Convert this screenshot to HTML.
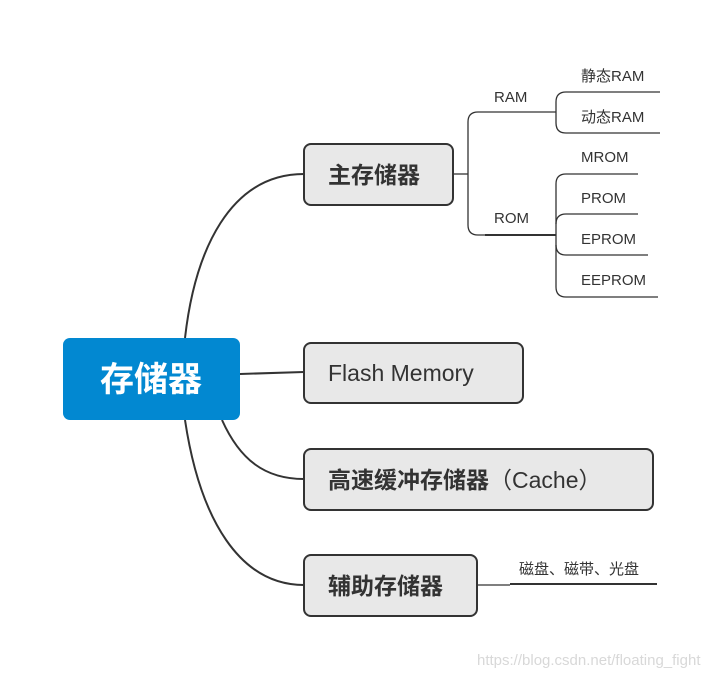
<!DOCTYPE html>
<html><head><meta charset="utf-8"><style>
html,body{margin:0;padding:0;background:#fff;}
svg{display:block;}
text{font-family:"Liberation Sans","Noto Sans CJK SC",sans-serif;}
</style></head><body>
<svg width="722" height="678" viewBox="0 0 722 678" xmlns="http://www.w3.org/2000/svg">
<g fill="none" stroke="#333" stroke-width="2">
<path d="M185 338 C195 250,230 174,304 174"/>
<path d="M240 374 L304 372"/>
<path d="M222 420 C240 460,265 479,304 479"/>
<path d="M185 420 C200 520,240 585,304 585"/>
</g>
<g fill="none" stroke="#333" stroke-width="1.3">
<path d="M453 174 L468 174"/>
<path d="M556 112 L478 112 Q468 112 468 122 L468 225 Q468 235 478 235 L556 235"/>
<path d="M660 92 L566 92 Q556 92 556 102 L556 123 Q556 133 566 133 L660 133"/>
<path d="M638 174 L566 174 Q556 174 556 184 L556 287 Q556 297 566 297 L658 297"/>
<path d="M638 214 L566 214 Q556 214 556 224"/>
<path d="M648 255 L566 255 Q556 255 556 245"/>
<path d="M477 585 L510 585"/>
</g>
<g stroke="#333" stroke-width="2">
<line x1="485" y1="235" x2="556" y2="235"/>
<line x1="510" y1="584" x2="657" y2="584"/>
</g>
<rect x="63" y="338" width="177" height="82" rx="7" fill="#0288d1"/>
<text x="151" y="391" text-anchor="middle" fill="#fff" font-size="34" font-weight="bold">存储器</text>
<g fill="#e8e8e8" stroke="#333" stroke-width="2">
<rect x="304" y="144" width="149" height="61" rx="7"/>
<rect x="304" y="343" width="219" height="60" rx="7"/>
<rect x="304" y="449" width="349" height="61" rx="7"/>
<rect x="304" y="555" width="173" height="61" rx="7"/>
</g>
<g fill="#333" font-size="23">
<text x="328" y="183" font-weight="bold">主存储器</text>
<text x="328" y="381">Flash Memory</text>
<text x="328" y="488"><tspan font-weight="bold">高速缓冲存储器</tspan>（Cache）</text>
<text x="328" y="594" font-weight="bold">辅助存储器</text>
</g>
<g fill="#333" font-size="15">
<text x="494" y="102">RAM</text>
<text x="494" y="223">ROM</text>
<text x="581" y="81">静态RAM</text>
<text x="581" y="122">动态RAM</text>
<text x="581" y="162">MROM</text>
<text x="581" y="203">PROM</text>
<text x="581" y="244">EPROM</text>
<text x="581" y="285">EEPROM</text>
<text x="519" y="574">磁盘、磁带、光盘</text>
</g>
<text x="477" y="665" fill="#d8d8d8" font-size="15">https://blog.csdn.net/floating_fight</text>
</svg>
</body></html>
